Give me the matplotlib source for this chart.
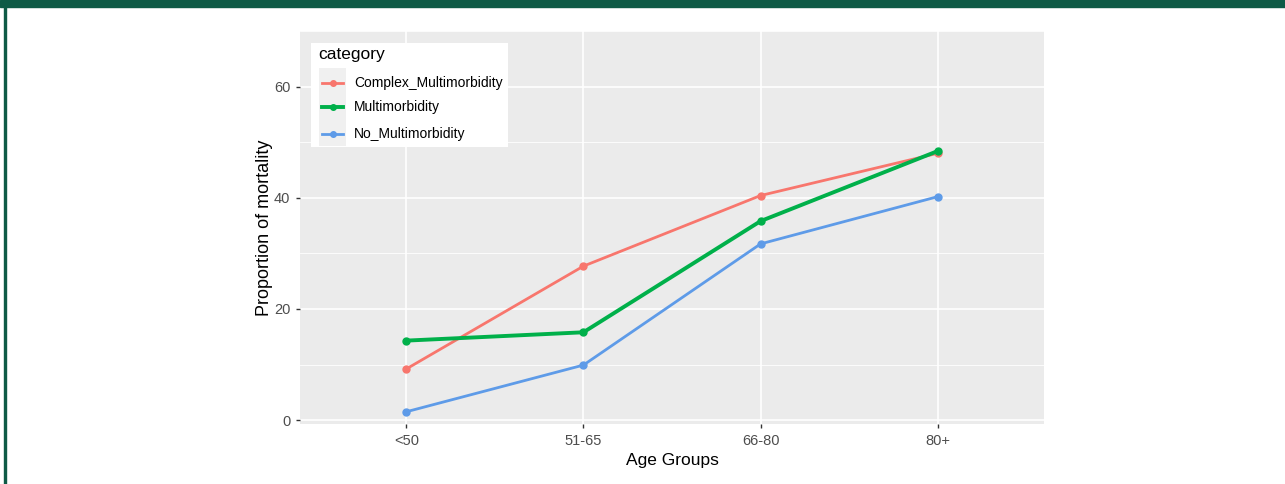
import numpy as np
import matplotlib
matplotlib.use("Agg")
import matplotlib.pyplot as plt
from matplotlib.patches import Rectangle
from matplotlib.lines import Line2D

plt.rcParams["font.family"] = ["Liberation Sans", "DejaVu Sans"]

# values
age_groups = ["<50", "51-65", "66-80", "80+"]
complex_multi = [9.2, 27.7, 40.4, 48.0]
multi = [14.3, 15.8, 35.8, 48.4]
no_multi = [1.5, 9.9, 31.7, 40.2]
series_names = ["Complex_Multimorbidity", "Multimorbidity", "No_Multimorbidity"]
y_major = [0, 20, 40, 60]
y_minor = [10, 30, 50, 70]

colors = ["#F8766D", "#00B04A", "#5E9BE8"]
widths = [2.0, 2.8, 2.0]

W, H = 1285, 484
fig = plt.figure(figsize=(W / 100, H / 100), dpi=100, facecolor="white")


def fx(px):
    return px / W


def fy(py):
    return 1 - py / H


# green frame of the source page
fig.patches.append(Rectangle((0, fy(6.5)), 1, 6.5 / H, transform=fig.transFigure,
                             color="#0E5A46", zorder=0))
fig.patches.append(Rectangle((fx(4), 0), 2.2 / W, 1, transform=fig.transFigure,
                             color="#0E5A46", zorder=0))

ax = fig.add_axes([fx(300), fy(424), 744 / W, 393 / H])
ax.set_facecolor("#EBEBEB")
for s in ax.spines.values():
    s.set_visible(False)

x = np.arange(1, len(age_groups) + 1)
ax.set_xlim(0.4, 4.6)
ax.set_ylim(-0.7, 70)
ax.set_xticks(x)
ax.set_xticklabels(age_groups)
ax.set_yticks(y_major)
ax.set_yticks(y_minor, minor=True)
ax.grid(which="major", color="white", linewidth=1.2)
ax.grid(which="minor", axis="y", color="white", linewidth=0.6)
ax.set_axisbelow(True)
ax.tick_params(which="major", length=3, width=1, color="#333333", labelcolor="#4D4D4D",
               labelsize=10.5, pad=4)
ax.tick_params(which="minor", length=0)

for vals, name, c, lw in zip([complex_multi, multi, no_multi], series_names, colors, widths):
    ax.plot(x, vals, color=c, linewidth=lw, marker="o", markersize=5, label=name)

ax.set_xlabel("Age Groups", fontsize=12.5, color="black", labelpad=4)
ax.set_ylabel("Proportion of mortality", fontsize=13, color="black", labelpad=1)

# ggplot-style legend drawn by hand (white box, grey key column)
fig.patches.append(Rectangle((fx(311), fy(147)), 197 / W, 104 / H, transform=fig.transFigure,
                             facecolor="white", edgecolor="none", zorder=5))
fig.patches.append(Rectangle((fx(319), fy(146)), 27 / W, 78 / H, transform=fig.transFigure,
                             facecolor="#F0F0F0", edgecolor="none", zorder=5))
fig.text(fx(318), fy(55), "category", fontsize=12.5, color="black", va="center", ha="left",
         zorder=6)
entry_y = [83, 107, 134]
for name, c, lw, py in zip(series_names, colors, widths, entry_y):
    fig.lines.append(Line2D([fx(322), fx(343)], [fy(py), fy(py)], transform=fig.transFigure,
                            color=c, linewidth=lw, zorder=6))
    fig.lines.append(Line2D([fx(332.5)], [fy(py)], transform=fig.transFigure, color=c,
                            marker="o", markersize=4, linestyle="none", zorder=6))
    fig.text(fx(354), fy(py), name, fontsize=10, color="black", va="center", ha="left",
             zorder=6)

fig.savefig("out.png", dpi=100, facecolor=fig.get_facecolor())
